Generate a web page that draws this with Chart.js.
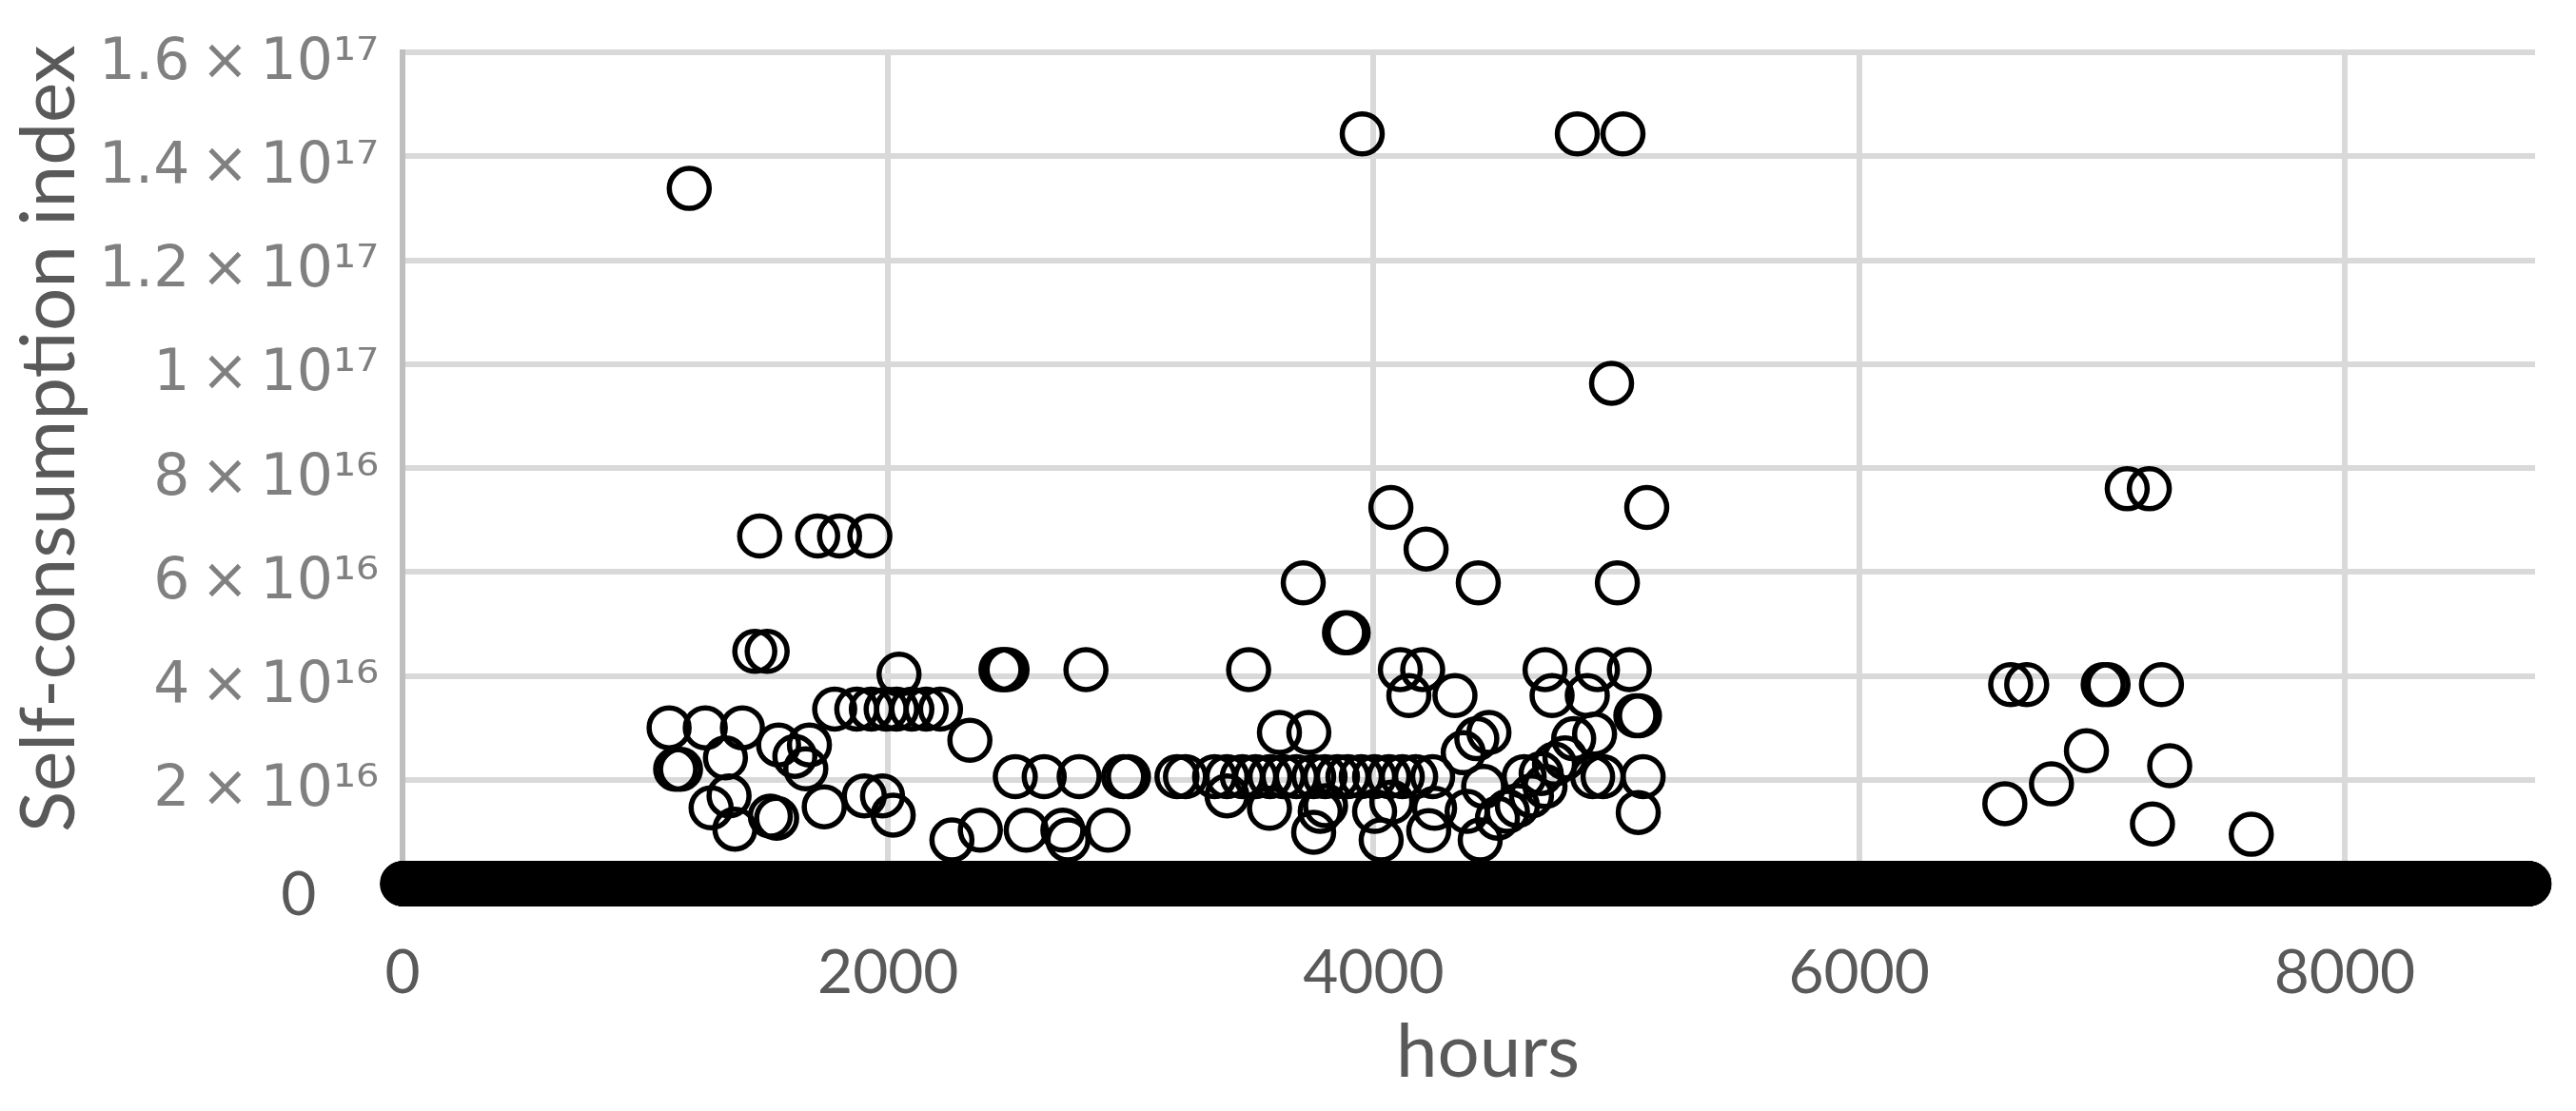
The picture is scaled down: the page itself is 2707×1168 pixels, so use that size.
<!DOCTYPE html>
<html>
<head>
<meta charset="utf-8">
<script src="https://cdn.jsdelivr.net/npm/chart.js@4.4.0/dist/chart.umd.min.js"></script>
<style>
  html, body { margin: 0; padding: 0; background: #fff; }
</style>
</head>
<body>
<canvas id="myChart" width="2707" height="1168"></canvas>
<script>
// hours with a non-zero index
var hours = [
    1181, 3953, 4839, 5027, 4980, 4071, 5125, 7104, 7195,
    1471, 1710, 1800, 1925, 4216, 3710, 4431, 5004, 3880, 3895,
    1451, 1502, 2045, 2465, 2478, 2490, 2815, 3485, 4110, 4202, 4706, 4922, 5053,
    4145, 4335, 4735, 4880, 6624, 6690, 7005, 7025, 7245,
    1780, 1871, 1931, 1992, 2035, 2098, 2157, 2216, 5080, 5095,
    1098, 1247, 1400, 3612, 3733, 4475, 4910, 4425, 4824, 2337,
    1549, 1676, 6936, 4369, 1616, 1330, 4788, 4745, 7279, 1661, 1125, 1145, 4690,
    2524, 2643, 2787, 2970, 2990, 3190, 3225, 3345, 3396, 3459, 3514, 3573, 3627,
    3682, 3753, 3800, 3851, 3894, 3949, 4004, 4063, 4118, 4173, 4243, 4620, 4902, 4945, 5110,
    6792, 4453, 4706, 1345, 1902, 1977, 3396, 4650, 4075, 6600,
    1737, 1271, 3571, 4251, 3802, 4592, 3780, 4004, 4385, 4551, 5090,
    2021, 1515, 1541, 4510, 7208, 1369, 2380, 2569, 2720, 2906, 4227, 3753,
    7615, 2263, 2741, 4031, 4439
];
// self-consumption index at those hours, in units of 10^16
var selfIndex = [
    13.38, 14.43, 14.43, 14.43, 9.63, 7.24, 7.24, 7.60, 7.60,
    6.69, 6.69, 6.69, 6.69, 6.44, 5.79, 5.79, 5.79, 4.83, 4.83,
    4.47, 4.47, 4.03, 4.12, 4.12, 4.12, 4.12, 4.12, 4.12, 4.12, 4.12, 4.12, 4.12,
    3.62, 3.62, 3.62, 3.62, 3.83, 3.83, 3.83, 3.83, 3.83,
    3.36, 3.36, 3.36, 3.36, 3.36, 3.36, 3.36, 3.36, 3.23, 3.23,
    3.00, 3.00, 3.00, 2.91, 2.91, 2.91, 2.88, 2.79, 2.79, 2.76,
    2.67, 2.67, 2.56, 2.52, 2.45, 2.42, 2.42, 2.30, 2.27, 2.21, 2.20, 2.20, 2.12,
    2.06, 2.06, 2.06, 2.06, 2.06, 2.06, 2.06, 2.06, 2.06, 2.06, 2.06, 2.06, 2.06,
    2.06, 2.06, 2.06, 2.06, 2.06, 2.06, 2.06, 2.06, 2.06, 2.06, 2.06, 2.06, 2.06, 2.06, 2.06,
    1.92, 1.87, 1.87, 1.69, 1.69, 1.69, 1.69, 1.69, 1.57, 1.54,
    1.48, 1.46, 1.45, 1.45, 1.50, 1.50, 1.39, 1.39, 1.39, 1.39, 1.37,
    1.32, 1.30, 1.26, 1.26, 1.15, 1.05, 1.03, 1.03, 1.03, 1.03, 1.02, 0.99,
    0.95, 0.84, 0.84, 0.84, 0.84
];
var hoursInYear = 8760;   // every other hour of the year sits at 0
var xTicks = [0, 2000, 4000, 6000, 8000];
var yTickLabels = {
    0: '0    ',
    2: '2\u2009×\u200910¹⁶', 4: '4\u2009×\u200910¹⁶', 6: '6\u2009×\u200910¹⁶', 8: '8\u2009×\u200910¹⁶',
    10: '1\u2009×\u200910¹⁷', 12: '1.2\u2009×\u200910¹⁷', 14: '1.4\u2009×\u200910¹⁷', 16: '1.6\u2009×\u200910¹⁷'
};

var nonZero = hours.map(function (h, i) { return { x: h, y: selfIndex[i] * 1e16 }; });
var taken = {};
hours.forEach(function (h) { taken[h] = true; });
var zeros = [];
for (var h = 0; h < hoursInYear; h++) {
    if (!taken[h]) zeros.push({ x: h, y: 0 });
}

var pointStyle = {
    pointStyle: 'circle',
    pointRadius: 21,
    pointBorderWidth: 5.5,
    pointBorderColor: '#000000',
    pointBackgroundColor: 'rgba(0,0,0,0)',
    showLine: false,
    clip: false
};

var ctx = document.getElementById('myChart').getContext('2d');
var myChart = new Chart(ctx, {
    type: 'scatter',
    data: {
        datasets: [
            Object.assign({ label: 'zero hours', data: zeros }, pointStyle),
            Object.assign({ label: 'Self-consumption index', data: nonZero }, pointStyle)
        ]
    },
    options: {
        responsive: false,
        animation: false,
        events: [],
        layout: { padding: { top: 55, right: 43, bottom: 0, left: 0 } },
        plugins: {
            legend: { display: false },
            tooltip: { enabled: false }
        },
        scales: {
            x: {
                type: 'linear',
                min: 0,
                max: 8784,
                afterFit: function (scale) {
                    scale.height = 239;
                    scale.paddingLeft = 0;
                    scale.paddingRight = 0;
                },
                afterBuildTicks: function (scale) {
                    scale.ticks = xTicks.map(function (v) { return { value: v }; });
                },
                ticks: {
                    padding: 56,
                    color: '#595959',
                    font: { family: 'Lato', size: 64 },
                    callback: function (v) { return String(v); }
                },
                grid: {
                    color: function (c) { return c.tick && c.tick.value === 0 ? 'rgba(0,0,0,0)' : '#d9d9d9'; },
                    lineWidth: 6,
                    drawTicks: false
                },
                border: { display: false },
                title: {
                    display: true,
                    text: '  hours',
                    color: '#595959',
                    font: { family: 'Lato', size: 78 },
                    padding: { top: 0, bottom: 14 }
                }
            },
            y: {
                min: 0,
                max: 1.6e17,
                afterFit: function (scale) {
                    scale.width = 423;
                    scale.paddingTop = 0;
                    scale.paddingBottom = 0;
                },
                ticks: {
                    stepSize: 2e16,
                    padding: 25,
                    labelOffset: 12,
                    color: function (c) { return c.tick && c.tick.value === 0 ? '#595959' : '#808080'; },
                    font: function (c) {
                        return c.tick && c.tick.value === 0 ? { family: 'Lato', size: 64 } : { family: 'DejaVu Sans', size: 60 };
                    },
                    callback: function (v) { return yTickLabels[Math.round(v / 1e16)]; }
                },
                grid: {
                    color: '#d9d9d9',
                    lineWidth: 6,
                    drawTicks: false
                },
                border: { color: '#bfbfbf', width: 6 },
                title: {
                    display: true,
                    text: '   Self-consumption index',
                    color: '#595959',
                    font: { family: 'Lato', size: 80 },
                    padding: { top: 4, bottom: 0 }
                }
            }
        }
    }
});
</script>
</body>
</html>
